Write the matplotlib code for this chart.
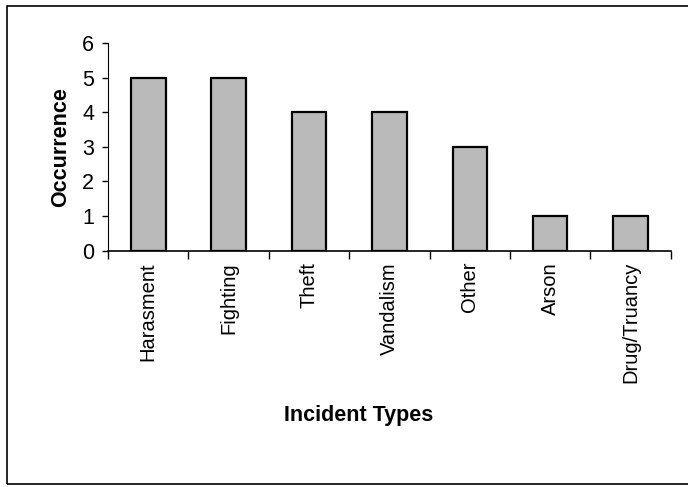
import matplotlib

matplotlib.use("Agg")

import matplotlib.pyplot as plt
import numpy as np
from matplotlib.patches import Rectangle

categories = ["Harasment", "Fighting", "Theft", "Vandalism", "Other", "Arson", "Drug/Truancy"]
occurrence = [5, 5, 4, 4, 3, 1, 1]
y_ticks = [0, 1, 2, 3, 4, 5, 6]

plt.rcParams["font.family"] = ["Liberation Sans", "DejaVu Sans"]

fig = plt.figure(figsize=(6.88, 4.87), dpi=100)
ax = fig.add_axes([0.157, 0.485, 0.818, 0.427])

x = np.arange(len(categories))
ax.bar(x, occurrence, width=0.43, color="#bababa", edgecolor="black", linewidth=1.6, zorder=3)

ax.set_xlim(-0.5, len(categories) - 0.5)
ax.set_ylim(0, 6)
ax.set_yticks(y_ticks)
ax.set_xticks(x)
ax.set_xticklabels(categories, rotation=90, fontsize=14.5)
ax.set_xticks(np.arange(len(categories) + 1) - 0.5, minor=True)
ax.tick_params(axis="x", which="major", length=0, pad=8)
ax.tick_params(axis="x", which="minor", length=6, width=1, direction="out")
ax.tick_params(axis="y", labelsize=15.5, length=4, width=1, direction="out", pad=6)

for side in ("top", "right"):
    ax.spines[side].set_visible(False)
ax.spines["left"].set_linewidth(0.8)
ax.spines["bottom"].set_linewidth(1.2)

ax.set_ylabel("Occurrence", fontsize=15.5, fontweight="bold", labelpad=8)
ax.set_xlabel("Incident Types", fontsize=15.5, fontweight="bold")
ax.xaxis.set_label_coords(0.446, -0.74)

# outer frame, running off the right edge like the scan
frame = Rectangle((7 / 688, 3 / 487), 700 / 688, 478 / 487, transform=fig.transFigure,
                  fill=False, edgecolor="black", linewidth=1.2, clip_on=False)
fig.patches.append(frame)

fig.savefig("out.png", facecolor="white")
